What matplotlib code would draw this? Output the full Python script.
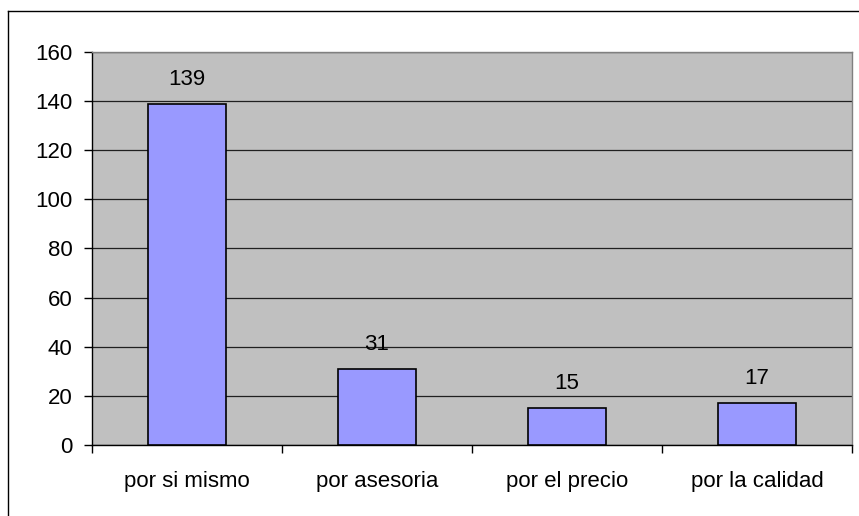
import matplotlib
matplotlib.use('Agg')
import matplotlib.pyplot as plt
from matplotlib.lines import Line2D
import numpy as np

plt.rcParams['font.family'] = ['Liberation Sans', 'DejaVu Sans']

categories = ['por si mismo', 'por asesoria', 'por el precio', 'por la calidad']
values = [139, 31, 15, 17]
yticks = [0, 20, 40, 60, 80, 100, 120, 140, 160]

W, H = 859, 516
fig = plt.figure(figsize=(W / 100, H / 100), dpi=100)
fig.patch.set_facecolor('white')

# outer chart frame (only top and left edges show)
fig.add_artist(Line2D([8 / W, 8 / W], [0, 1 - 11 / H], color='black', lw=1.0))
fig.add_artist(Line2D([8 / W, 1], [1 - 11 / H, 1 - 11 / H], color='black', lw=1.0))

ax = fig.add_axes([92 / W, 1 - 445 / H, 760 / W, 393 / H])
ax.set_facecolor('#C0C0C0')

FS = 16
x = np.arange(len(categories))
bars = ax.bar(x, values, width=0.41, color='#9999FF', edgecolor='black', linewidth=1.2, zorder=3)

for b, v in zip(bars, values):
    ax.annotate(str(v), (b.get_x() + b.get_width() / 2, v), xytext=(0, 10),
                textcoords='offset points', ha='center', va='bottom', fontsize=FS)

ax.set_xlim(-0.5, len(categories) - 0.5)
ax.set_ylim(0, 160)
ax.set_yticks(yticks)
ax.yaxis.grid(True, color='#202020', lw=0.9, zorder=1)
ax.set_axisbelow(True)

ax.set_xticks(x)
ax.set_xticklabels(categories, fontsize=FS)
ax.tick_params(axis='x', length=0, pad=19)
ax.set_xticks(np.arange(len(categories) + 1) - 0.5, minor=True)
ax.tick_params(axis='x', which='minor', length=6, width=1, direction='out')
ax.tick_params(axis='y', length=6, width=1, direction='out', labelsize=FS, pad=8)

ax.spines['left'].set_color('black')
ax.spines['bottom'].set_color('black')
ax.spines['top'].set_color('#808080')
ax.spines['right'].set_color('#808080')
for s in ax.spines.values():
    s.set_linewidth(1.0)

plt.savefig('out.png', dpi=100)
